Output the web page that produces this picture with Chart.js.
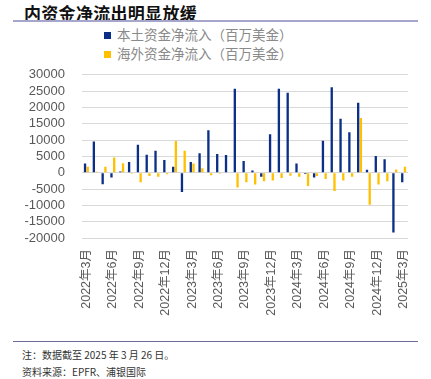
<!DOCTYPE html>
<html lang="zh">
<head>
    <meta charset="UTF-8">
    <title>内资金净流出明显放缓</title>
    <script src="https://cdn.jsdelivr.net/npm/chart.js"></script>
    <style>
        body { margin: 0; width: 431px; height: 379px; position: relative; background: #fff; overflow: hidden;
               font-family: "Noto Sans CJK SC", sans-serif; }
        #title { position: absolute; left: 24px; top: 0px; font-size: 17px; font-weight: bold; letter-spacing: 0.3px; color: #111; }
        .rule { position: absolute; left: 13px; width: 405px; }
        #legend { position: absolute; left: 104px; top: 25px; font-size: 13.5px; color: #8a8a8a; line-height: 19px; }
        #legend .sw { display: inline-block; width: 7px; height: 7px; margin-right: 6px; vertical-align: 1px; }
        #chartContainer { position: absolute; left: 0; top: 50px; width: 431px; height: 272px; }
        .note { position: absolute; left: 22px; font-size: 10px; color: #333; }
    </style>
</head>
<body>
    <div id="title">内资金净流出明显放缓</div>
    <div class="rule" style="top:20px; height:2px; background:#a6a6cc;"></div>
    <div id="legend"></div>
    <div id="chartContainer"><canvas id="flowChart"></canvas></div>
    <div class="rule" style="top:341px; height:1px; background:#6b6b99;"></div>
    <div class="note" style="top:347px;">注：数据截至 2025 年 3 月 26 日。</div>
    <div class="note" style="top:364px;">资料来源：EPFR、浦银国际</div>

    <script>
        // monthly, 2022-03 .. 2025-03
        const months = [
            "2022年3月", "2022年4月", "2022年5月", "2022年6月", "2022年7月", "2022年8月",
            "2022年9月", "2022年10月", "2022年11月", "2022年12月", "2023年1月", "2023年2月",
            "2023年3月", "2023年4月", "2023年5月", "2023年6月", "2023年7月", "2023年8月",
            "2023年9月", "2023年10月", "2023年11月", "2023年12月", "2024年1月", "2024年2月",
            "2024年3月", "2024年4月", "2024年5月", "2024年6月", "2024年7月", "2024年8月",
            "2024年9月", "2024年10月", "2024年11月", "2024年12月", "2025年1月", "2025年2月",
            "2025年3月"
        ];
        // 百万美金
        const domesticFlow = [
            2800, 9600, -3500, -1500, 400, 3300,
            8600, 5500, 6700, 3900, 1800, -5900,
            3300, 6000, 13000, 5700, 5400, 25700,
            3600, 700, -1200, 11800, 25700, 24500,
            2800, -400, -1500, 9800, 26200, 16500,
            12400, 21400, 900, 5100, 4100, -18300,
            -2900
        ];
        const overseasFlow = [
            1800, 300, 1800, 4700, 2900, -300,
            -2900, -1000, -1200, -500, 9700, 6700,
            2800, 1400, -800, -300, -200, -4500,
            -2900, -3600, -2600, -2400, -1600, -900,
            -1200, -4100, -1000, -1900, -5600, -2400,
            -1200, 16800, -9800, -3600, -2600, 1000,
            1800
        ];
        const seriesNames = ["本土资金净流入（百万美金）", "海外资金净流入（百万美金）"];
        const seriesColors = ["#0B2E86", "#FFC000"];
        const yMin = -20000, yMax = 30000, yStep = 5000;

        const chart = new Chart(document.getElementById("flowChart"), {
            type: "bar",
            data: {
                labels: months,
                datasets: [
                    { label: seriesNames[0], data: domesticFlow, backgroundColor: seriesColors[0] },
                    { label: seriesNames[1], data: overseasFlow, backgroundColor: seriesColors[1] }
                ]
            },
            options: {
                responsive: true,
                maintainAspectRatio: false,
                animation: false,
                datasets: { bar: { categoryPercentage: 0.62, barPercentage: 0.85 } },
                layout: { padding: { top: 14, right: 23, left: 0, bottom: 0 } },
                plugins: { legend: { display: false }, tooltip: { enabled: false } },
                scales: {
                    x: {
                        grid: { display: false, drawTicks: false },
                        border: { display: false },
                        ticks: {
                            autoSkip: false, minRotation: 90, maxRotation: 90, padding: 11,
                            color: "#595959", font: { family: "Liberation Sans, Noto Sans CJK SC", size: 12.5 },
                            callback: (v, i) => i % 3 === 0 ? months[i] : ""
                        },
                        afterFit: s => { s.height = 84; }
                    },
                    y: {
                        min: yMin, max: yMax,
                        grid: { color: "#d9d9d9", lineWidth: 1, drawTicks: false },
                        border: { display: false },
                        ticks: {
                            stepSize: yStep, autoSkip: false, padding: 17, color: "#595959",
                            font: { family: "Liberation Sans", size: 13 },
                            callback: v => String(v)
                        },
                        afterFit: s => { s.width = 82; }
                    }
                }
            }
        });

        // legend from the chart's datasets
        document.getElementById("legend").innerHTML = chart.data.datasets.map(ds =>
            '<div><span class="sw" style="background:' + ds.backgroundColor + '"></span>' + ds.label + '</div>'
        ).join("");
    </script>
</body>
</html>
